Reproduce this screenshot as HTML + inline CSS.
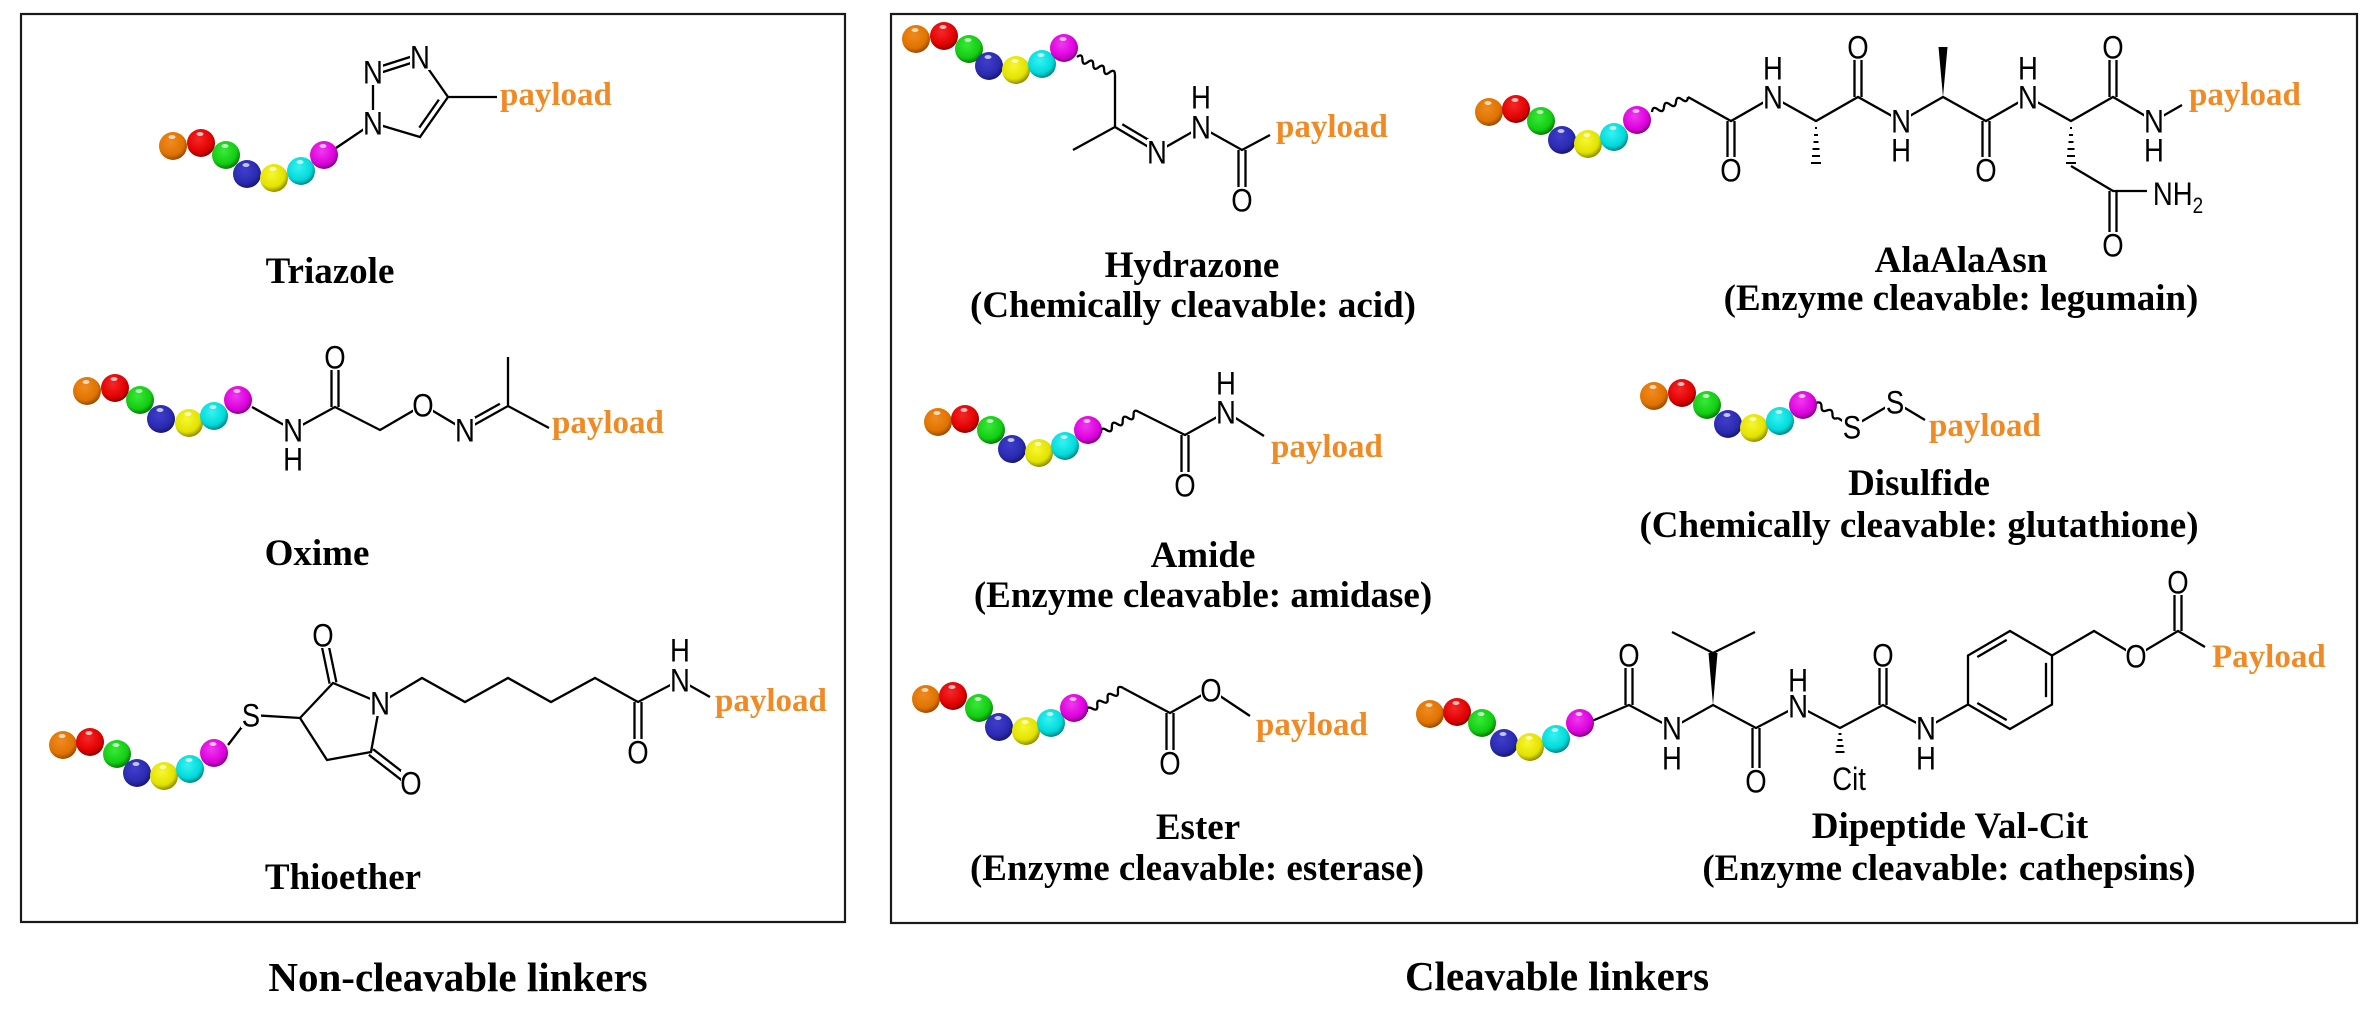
<!DOCTYPE html>
<html><head><meta charset="utf-8"><style>
html,body{margin:0;padding:0;background:#fff;}
svg{display:block;}
.b{stroke:#000;stroke-width:2.3;fill:none;stroke-linecap:butt;}
.w{fill:#fff;stroke:none;}
.at{font-family:"Liberation Sans",Arial,sans-serif;font-size:32px;fill:#000;text-anchor:middle;transform-box:fill-box;transform-origin:center;transform:translateY(1px) scaleX(.86);}
.pl{font-family:"Liberation Serif","Times New Roman",serif;font-weight:bold;font-size:33px;fill:#F08A24;}
.cap{font-family:"Liberation Serif","Times New Roman",serif;font-weight:bold;font-size:37px;fill:#000;text-anchor:middle;}
.ttl{font-family:"Liberation Serif","Times New Roman",serif;font-weight:bold;font-size:41px;fill:#000;text-anchor:middle;}
.h{stroke:#000;stroke-width:2;}
</style></head><body>
<svg width="2374" height="1020" viewBox="0 0 2374 1020" xmlns="http://www.w3.org/2000/svg">
<defs>
<radialGradient id="gO" cx="0.42" cy="0.36" r="0.64"><stop offset="0" stop-color="#F08A20"/><stop offset="0.72" stop-color="#E07300"/><stop offset="1" stop-color="#9A4C00"/></radialGradient>
<radialGradient id="gR" cx="0.42" cy="0.36" r="0.64"><stop offset="0" stop-color="#F52828"/><stop offset="0.72" stop-color="#E20000"/><stop offset="1" stop-color="#8E0000"/></radialGradient>
<radialGradient id="gG" cx="0.42" cy="0.36" r="0.64"><stop offset="0" stop-color="#38EA38"/><stop offset="0.72" stop-color="#12CC12"/><stop offset="1" stop-color="#0A7A0A"/></radialGradient>
<radialGradient id="gB" cx="0.42" cy="0.36" r="0.64"><stop offset="0" stop-color="#3E3ECC"/><stop offset="0.72" stop-color="#2A2AB0"/><stop offset="1" stop-color="#181870"/></radialGradient>
<radialGradient id="gY" cx="0.42" cy="0.36" r="0.64"><stop offset="0" stop-color="#F7F730"/><stop offset="0.72" stop-color="#E2E200"/><stop offset="1" stop-color="#8E8E00"/></radialGradient>
<radialGradient id="gC" cx="0.42" cy="0.36" r="0.64"><stop offset="0" stop-color="#38F2F2"/><stop offset="0.72" stop-color="#00DADA"/><stop offset="1" stop-color="#008888"/></radialGradient>
<radialGradient id="gM" cx="0.42" cy="0.36" r="0.64"><stop offset="0" stop-color="#F038F0"/><stop offset="0.72" stop-color="#DD00DD"/><stop offset="1" stop-color="#880088"/></radialGradient>
<g id="bO"><circle r="14" fill="url(#gO)"/><ellipse cx="-1" cy="-9" rx="3.5" ry="2" fill="#fff" opacity=".7"/></g>
<g id="bR"><circle r="14" fill="url(#gR)"/><ellipse cx="-1" cy="-9" rx="3.5" ry="2" fill="#fff" opacity=".7"/></g>
<g id="bG"><circle r="14" fill="url(#gG)"/><ellipse cx="-1" cy="-9" rx="3.5" ry="2" fill="#fff" opacity=".7"/></g>
<g id="bB"><circle r="14" fill="url(#gB)"/><ellipse cx="-1" cy="-9" rx="3.5" ry="2" fill="#fff" opacity=".7"/></g>
<g id="bY"><circle r="14" fill="url(#gY)"/><ellipse cx="-1" cy="-9" rx="3.5" ry="2" fill="#fff" opacity=".7"/></g>
<g id="bC"><circle r="14" fill="url(#gC)"/><ellipse cx="-1" cy="-9" rx="3.5" ry="2" fill="#fff" opacity=".7"/></g>
<g id="bM"><circle r="14" fill="url(#gM)"/><ellipse cx="-1" cy="-9" rx="3.5" ry="2" fill="#fff" opacity=".7"/></g>
</defs>
<rect x="0" y="0" width="2374" height="1020" fill="#fff"/>

<!-- Boxes -->
<rect x="21" y="14" width="824" height="908" fill="none" stroke="#1a1a1a" stroke-width="2.2"/>
<rect x="891" y="14" width="1466" height="909" fill="none" stroke="#1a1a1a" stroke-width="2.2"/>

<!-- ================= TRIAZOLE ================= -->
<path class="b" d="M336 148L373 123L373 72 M372.1 69.1L419.1 54.1 M373.9 74.9L420.9 59.9 M420 57L448 97L420 137L373 123 M438.9 99.6L419.3 127.6 M448 97L497 97"/>
<use href="#bO" x="173" y="146"/><use href="#bR" x="201" y="143"/><use href="#bG" x="226" y="155"/><use href="#bB" x="247" y="174"/><use href="#bY" x="274" y="178"/><use href="#bC" x="301" y="171"/><use href="#bM" x="324" y="155"/>
<rect class="w" x="363" y="110" width="20" height="26"/><text class="at" x="373" y="133.5">N</text>
<rect class="w" x="363" y="59" width="20" height="26"/><text class="at" x="373" y="82.5">N</text>
<rect class="w" x="410" y="44" width="20" height="26"/><text class="at" x="420" y="67.5">N</text>
<text class="pl" x="500" y="105">payload</text>
<text class="cap" x="330" y="283">Triazole</text>

<!-- ================= OXIME ================= -->
<path class="b" d="M252 407L293 430L335 407L380 430L423 405L465 430L508 406L549 428 M331.5 407V357 M338.5 407V357 M470.7 420L499.9 403.7 M508 406V357"/>
<use href="#bO" x="87" y="391"/><use href="#bR" x="115" y="388"/><use href="#bG" x="140" y="400"/><use href="#bB" x="161" y="419"/><use href="#bY" x="189" y="423"/><use href="#bC" x="214" y="416"/><use href="#bM" x="238" y="400"/>
<rect class="w" x="283" y="417" width="20" height="26"/><text class="at" x="293" y="440.5">N</text>
<rect class="w" x="283" y="446" width="20" height="26"/><text class="at" x="293" y="469.5">H</text>
<rect class="w" x="325" y="344" width="20" height="26"/><text class="at" x="335" y="367.5">O</text>
<rect class="w" x="413" y="392" width="20" height="26"/><text class="at" x="423" y="415.5">O</text>
<rect class="w" x="455" y="417" width="20" height="26"/><text class="at" x="465" y="440.5">N</text>
<text class="pl" x="552" y="433">payload</text>
<text class="cap" x="317" y="565">Oxime</text>

<!-- ================= THIOETHER ================= -->
<path class="b" d="M228 745L251 715L300 718L333 683L380 703L371 752L327 760L300 718 M336.4 682.3L326.4 634.3 M329.6 683.7L319.6 635.7 M368.9 754.8L408.9 785.8 M373.1 749.2L413.1 780.2 M380 703L422 678L465 702L508 678L551 702L595 678L638 702L680 680 M634.5 702V752 M641.5 702V752 M680 680L710 697"/>
<use href="#bO" x="63" y="745"/><use href="#bR" x="90" y="742"/><use href="#bG" x="117" y="754"/><use href="#bB" x="137" y="773"/><use href="#bY" x="164" y="776"/><use href="#bC" x="190" y="769"/><use href="#bM" x="214" y="753"/>
<rect class="w" x="241" y="702" width="20" height="26"/><text class="at" x="251" y="725.5">S</text>
<rect class="w" x="370" y="690" width="20" height="26"/><text class="at" x="380" y="713.5">N</text>
<rect class="w" x="313" y="622" width="20" height="26"/><text class="at" x="323" y="645.5">O</text>
<rect class="w" x="401" y="770" width="20" height="26"/><text class="at" x="411" y="793.5">O</text>
<rect class="w" x="628" y="739" width="20" height="26"/><text class="at" x="638" y="762.5">O</text>
<rect class="w" x="670" y="667" width="20" height="26"/><text class="at" x="680" y="690.5">N</text>
<rect class="w" x="670" y="637" width="20" height="26"/><text class="at" x="680" y="660.5">H</text>
<text class="pl" x="715" y="711">payload</text>
<text class="cap" x="343" y="889">Thioether</text>

<text class="ttl" x="458" y="991">Non-cleavable linkers</text>

<!-- ================= HYDRAZONE ================= -->
<path class="b" transform="translate(1077 57) rotate(25.3)" d="M0 0q3 -6 6 0t6 0t6 0t6 0t6 0t6 0t6 0"/>
<path class="b" d="M1115 75V127L1073 150 M1115 127L1157 152L1201 127L1242 150L1270 135 M1122.3 124.3L1151.7 141.8 M1238.5 150V200 M1245.5 150V200"/>
<use href="#bO" x="916" y="39"/><use href="#bR" x="944" y="36"/><use href="#bG" x="969" y="49"/><use href="#bB" x="989" y="66"/><use href="#bY" x="1016" y="70"/><use href="#bC" x="1042" y="64"/><use href="#bM" x="1064" y="48"/>
<rect class="w" x="1147" y="139" width="20" height="26"/><text class="at" x="1157" y="162.5">N</text>
<rect class="w" x="1191" y="114" width="20" height="26"/><text class="at" x="1201" y="137.5">N</text>
<rect class="w" x="1191" y="84" width="20" height="26"/><text class="at" x="1201" y="107.5">H</text>
<rect class="w" x="1232" y="187" width="20" height="26"/><text class="at" x="1242" y="210.5">O</text>
<text class="pl" x="1276" y="137">payload</text>
<text class="cap" x="1192" y="277">Hydrazone</text>
<text class="cap" x="1193" y="317">(Chemically cleavable: acid)</text>

<!-- ================= AlaAlaAsn ================= -->
<path class="b" transform="translate(1652 112) rotate(-22.6)" d="M0 0q3.25 -6 6.5 0t6.5 0t6.5 0t6.5 0t6.5 0t6.5 0"/>
<path class="b" d="M1688 97L1731 121L1773 97L1816 121L1858 97L1901 121L1943 97L1986 121L2028 97L2071 121L2113 97L2154 121L2182 105 M1727.5 121V170 M1734.5 121V170 M1854.5 97V47 M1861.5 97V47 M1982.5 121V170 M1989.5 121V170 M2109.5 97V47 M2116.5 97V47 M2071 166L2113 191L2147 191 M2109.5 191V245 M2116.5 191V245"/>
<polygon points="1943,97 1938.5,47 1947.5,47" fill="#000"/>
<g class="h">
<line x1="1815" y1="128" x2="1817" y2="128"/><line x1="1814" y1="135" x2="1818" y2="135"/><line x1="1813.5" y1="142" x2="1818.5" y2="142"/><line x1="1812.5" y1="149" x2="1819.5" y2="149"/><line x1="1812" y1="156" x2="1820" y2="156"/><line x1="1811" y1="163" x2="1821" y2="163"/>
<line x1="2070" y1="128" x2="2072" y2="128"/><line x1="2069" y1="135" x2="2073" y2="135"/><line x1="2068.5" y1="142" x2="2073.5" y2="142"/><line x1="2067.5" y1="149" x2="2074.5" y2="149"/><line x1="2067" y1="156" x2="2075" y2="156"/><line x1="2066" y1="163" x2="2076" y2="163"/>
</g>
<use href="#bO" x="1489" y="112"/><use href="#bR" x="1516" y="109"/><use href="#bG" x="1541" y="121"/><use href="#bB" x="1562" y="140"/><use href="#bY" x="1588" y="144"/><use href="#bC" x="1614" y="137"/><use href="#bM" x="1637" y="120"/>
<rect class="w" x="1721" y="157" width="20" height="26"/><text class="at" x="1731" y="180.5">O</text>
<rect class="w" x="1763" y="84" width="20" height="26"/><text class="at" x="1773" y="107.5">N</text>
<rect class="w" x="1763" y="55" width="20" height="26"/><text class="at" x="1773" y="78.5">H</text>
<rect class="w" x="1848" y="34" width="20" height="26"/><text class="at" x="1858" y="57.5">O</text>
<rect class="w" x="1891" y="108" width="20" height="26"/><text class="at" x="1901" y="131.5">N</text>
<rect class="w" x="1891" y="137" width="20" height="26"/><text class="at" x="1901" y="160.5">H</text>
<rect class="w" x="1976" y="157" width="20" height="26"/><text class="at" x="1986" y="180.5">O</text>
<rect class="w" x="2018" y="84" width="20" height="26"/><text class="at" x="2028" y="107.5">N</text>
<rect class="w" x="2018" y="55" width="20" height="26"/><text class="at" x="2028" y="78.5">H</text>
<rect class="w" x="2103" y="34" width="20" height="26"/><text class="at" x="2113" y="57.5">O</text>
<rect class="w" x="2144" y="108" width="20" height="26"/><text class="at" x="2154" y="131.5">N</text>
<rect class="w" x="2144" y="137" width="20" height="26"/><text class="at" x="2154" y="160.5">H</text>
<rect class="w" x="2103" y="232" width="20" height="26"/><text class="at" x="2113" y="255.5">O</text>
<rect class="w" x="2147" y="179" width="66" height="30"/>
<text class="at" x="2178" y="204">NH<tspan font-size="22" dy="8">2</tspan></text>
<text class="pl" x="2189" y="105">payload</text>
<text class="cap" x="1961" y="272">AlaAlaAsn</text>
<text class="cap" x="1961" y="310">(Enzyme cleavable: legumain)</text>

<!-- ================= AMIDE ================= -->
<path class="b" transform="translate(1101 433) rotate(-28.9)" d="M0 0q3.1 -6 6.2 0t6.2 0t6.2 0t6.2 0t6.2 0t6.2 0t6.2 0"/>
<path class="b" d="M1139 412L1185 435L1226 412 M1181.5 435V485 M1188.5 435V485 M1226 412L1264 436"/>
<use href="#bO" x="938" y="422"/><use href="#bR" x="965" y="419"/><use href="#bG" x="991" y="430"/><use href="#bB" x="1012" y="449"/><use href="#bY" x="1039" y="453"/><use href="#bC" x="1065" y="446"/><use href="#bM" x="1088" y="430"/>
<rect class="w" x="1175" y="472" width="20" height="26"/><text class="at" x="1185" y="495.5">O</text>
<rect class="w" x="1216" y="399" width="20" height="26"/><text class="at" x="1226" y="422.5">N</text>
<rect class="w" x="1216" y="370" width="20" height="26"/><text class="at" x="1226" y="393.5">H</text>
<text class="pl" x="1271" y="457">payload</text>
<text class="cap" x="1203" y="567">Amide</text>
<text class="cap" x="1203" y="607">(Enzyme cleavable: amidase)</text>

<!-- ================= DISULFIDE ================= -->
<path class="b" transform="translate(1816 403) rotate(34.3)" d="M0 0q3.3 -5 6.65 0t6.65 0t6.65 0t6.65 0"/>
<path class="b" d="M1838 418L1852 427L1895 402L1925 420"/>
<use href="#bO" x="1654" y="396"/><use href="#bR" x="1682" y="393"/><use href="#bG" x="1707" y="405"/><use href="#bB" x="1728" y="424"/><use href="#bY" x="1754" y="428"/><use href="#bC" x="1780" y="421"/><use href="#bM" x="1803" y="405"/>
<rect class="w" x="1842" y="414" width="20" height="26"/><text class="at" x="1852" y="437.5">S</text>
<rect class="w" x="1885" y="389" width="20" height="26"/><text class="at" x="1895" y="412.5">S</text>
<text class="pl" x="1929" y="436">payload</text>
<text class="cap" x="1919" y="495">Disulfide</text>
<text class="cap" x="1919" y="537">(Chemically cleavable: glutathione)</text>

<!-- ================= ESTER ================= -->
<path class="b" transform="translate(1087 712) rotate(-33.7)" d="M0 0q3.1 -6 6.2 0t6.2 0t6.2 0t6.2 0t6.2 0t6.2 0t6.2 0"/>
<path class="b" d="M1123 688L1170 713L1211 690L1250 716 M1166.5 713V763 M1173.5 713V763"/>
<use href="#bO" x="926" y="699"/><use href="#bR" x="953" y="696"/><use href="#bG" x="979" y="708"/><use href="#bB" x="999" y="727"/><use href="#bY" x="1026" y="731"/><use href="#bC" x="1051" y="723"/><use href="#bM" x="1074" y="708"/>
<rect class="w" x="1160" y="750" width="20" height="26"/><text class="at" x="1170" y="773.5">O</text>
<rect class="w" x="1201" y="677" width="20" height="26"/><text class="at" x="1211" y="700.5">O</text>
<text class="pl" x="1256" y="735">payload</text>
<text class="cap" x="1198" y="839">Ester</text>
<text class="cap" x="1197" y="880">(Enzyme cleavable: esterase)</text>

<!-- ================= VAL-CIT ================= -->
<path class="b" d="M1592 721L1629 705L1672 728L1713 705L1756 728L1798 706L1840 728L1883 705L1926 728L1968 704.5 M1625.5 705V655 M1632.5 705V655 M1752.5 728V781 M1759.5 728V781 M1879.5 705V655 M1886.5 705V655 M1672 632L1713 653L1755 632 M2010 631L2052 655.5L2052 704.5L2010 729L1968 704.5L1968 655.5Z M1977.3 657L2006.7 639.9 M2046 662.9V697.1 M2006.7 720.1L1977.3 703 M2052 655.5L2094 631L2136 656L2178 631L2205 647 M2174.5 631V582 M2181.5 631V582"/>
<polygon points="1713,705 1708.5,653 1717.5,653" fill="#000"/>
<g class="h">
<line x1="1838.5" y1="734" x2="1841.5" y2="734"/><line x1="1837.5" y1="740" x2="1842.5" y2="740"/><line x1="1836.5" y1="746" x2="1843.5" y2="746"/><line x1="1835.5" y1="752" x2="1844.5" y2="752"/>
</g>
<use href="#bO" x="1430" y="714"/><use href="#bR" x="1457" y="712"/><use href="#bG" x="1482" y="723"/><use href="#bB" x="1504" y="743"/><use href="#bY" x="1530" y="747"/><use href="#bC" x="1556" y="739"/><use href="#bM" x="1580" y="723"/>
<rect class="w" x="1619" y="642" width="20" height="26"/><text class="at" x="1629" y="665.5">O</text>
<rect class="w" x="1662" y="715" width="20" height="26"/><text class="at" x="1672" y="738.5">N</text>
<rect class="w" x="1662" y="745" width="20" height="26"/><text class="at" x="1672" y="768.5">H</text>
<rect class="w" x="1746" y="768" width="20" height="26"/><text class="at" x="1756" y="791.5">O</text>
<rect class="w" x="1788" y="693" width="20" height="26"/><text class="at" x="1798" y="716.5">N</text>
<rect class="w" x="1788" y="667" width="20" height="26"/><text class="at" x="1798" y="690.5">H</text>
<rect class="w" x="1873" y="642" width="20" height="26"/><text class="at" x="1883" y="665.5">O</text>
<rect class="w" x="1916" y="715" width="20" height="26"/><text class="at" x="1926" y="738.5">N</text>
<rect class="w" x="1916" y="745" width="20" height="26"/><text class="at" x="1926" y="768.5">H</text>
<rect class="w" x="2126" y="643" width="20" height="26"/><text class="at" x="2136" y="666.5">O</text>
<rect class="w" x="2168" y="569" width="20" height="26"/><text class="at" x="2178" y="592.5">O</text>
<rect class="w" x="1828" y="764" width="44" height="28"/><text class="at" x="1849" y="789">Cit</text>
<text class="pl" x="2212" y="667">Payload</text>
<text class="cap" x="1950" y="838">Dipeptide Val-Cit</text>
<text class="cap" x="1949" y="880">(Enzyme cleavable: cathepsins)</text>

<text class="ttl" x="1557" y="990">Cleavable linkers</text>
</svg>
</body></html>
